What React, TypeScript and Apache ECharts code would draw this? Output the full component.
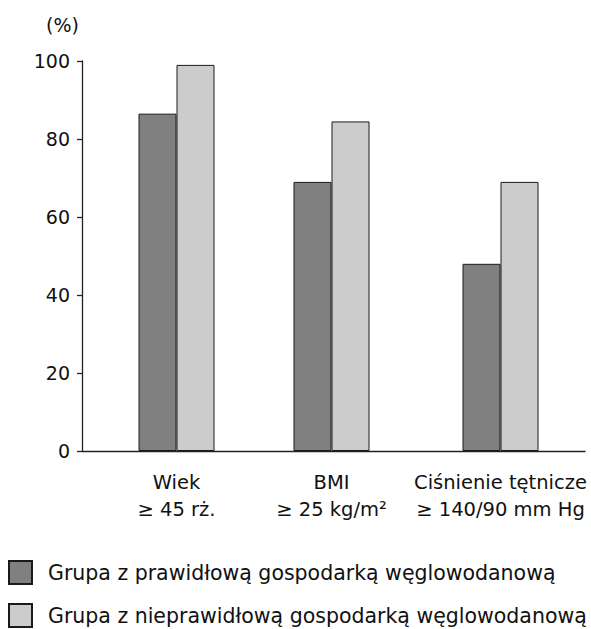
import React, { useEffect, useRef } from "react";
import * as echarts from "echarts";

const categories = ["Wiek\n≥ 45 rż.", "BMI\n≥ 25 kg/m²", "Ciśnienie tętnicze\n≥ 140/90 mm Hg"];
const seriesNames = [
  "Grupa z prawidłową gospodarką węglowodanową",
  "Grupa z nieprawidłową gospodarką węglowodanową",
];
const normalGroup = [86.5, 69, 48];
const abnormalGroup = [99, 84.5, 69];
const yTicks = [0, 20, 40, 60, 80, 100];

const FONT = "'DejaVu Sans', sans-serif";

export default function App() {
  const ref = useRef<HTMLDivElement>(null);
  useEffect(() => {
    if (!ref.current) return;
    const chart = echarts.init(ref.current, null, { renderer: "svg" });
    // layout: group centre positions along the x axis (axis units = px)
    const groupPos = [94.5, 249.5, 418.5];
    const labelFor = (v: number) => {
      const i = groupPos.findIndex((p) => Math.abs(p - v) < 0.01);
      return i >= 0 ? categories[i] : "";
    };
    const barStyle = (color: string) => ({
      color,
      borderColor: "#1a1a1a",
      borderWidth: 1,
    });
    const legendBase = {
      orient: "vertical",
      left: 8,
      padding: 0,
      itemWidth: 23,
      itemHeight: 23,
      icon: "rect",
      textStyle: { fontFamily: FONT, fontSize: 20.5, color: "#111", padding: [0, 0, 0, 11] },
    };
    chart.setOption({
      animation: false,
      textStyle: { fontFamily: FONT },
      title: {
        text: "(%)",
        left: 41,
        top: 10,
        textStyle: { fontFamily: FONT, fontSize: 19, fontWeight: "normal", color: "#111" },
      },
      grid: { left: 82, right: 6, top: 61, bottom: 178 },
      xAxis: {
        type: "value",
        min: 0,
        max: 503,
        splitLine: { show: false },
        axisTick: { show: false },
        axisLine: { show: true, lineStyle: { color: "#222", width: 1.3 } },
        axisLabel: {
          customValues: groupPos,
          formatter: (v: number) => labelFor(v),
          fontFamily: FONT,
          fontSize: 19.5,
          lineHeight: 27,
          color: "#111",
          margin: 18,
          align: "center",
        },
      },
      yAxis: {
        type: "value",
        min: yTicks[0],
        max: yTicks[yTicks.length - 1],
        interval: 20,
        splitLine: { show: false },
        axisLine: { show: true, lineStyle: { color: "#222", width: 1.3 } },
        axisTick: { show: true, length: 5, lineStyle: { color: "#222", width: 1.3 } },
        axisLabel: { fontFamily: FONT, fontSize: 19, color: "#111", margin: 12 },
      },
      legend: [
        { ...legendBase, top: 560, data: [seriesNames[0]] },
        { ...legendBase, top: 603, data: [seriesNames[1]] },
      ],
      series: [
        {
          name: seriesNames[0],
          type: "bar",
          barWidth: 38,
          barGap: "0%",
          itemStyle: barStyle("#808080"),
          data: groupPos.map((p, i) => [p, normalGroup[i]]),
        },
        {
          name: seriesNames[1],
          type: "bar",
          barWidth: 38,
          barGap: "0%",
          itemStyle: barStyle("#cccccc"),
          data: groupPos.map((p, i) => [p, abnormalGroup[i]]),
        },
      ],
    });
    return () => chart.dispose();
  }, []);
  return (
    <div
      ref={ref}
      style={{ position: "fixed", left: 0, top: 0, width: 591, height: 629, background: "#fff" }}
    />
  );
}
